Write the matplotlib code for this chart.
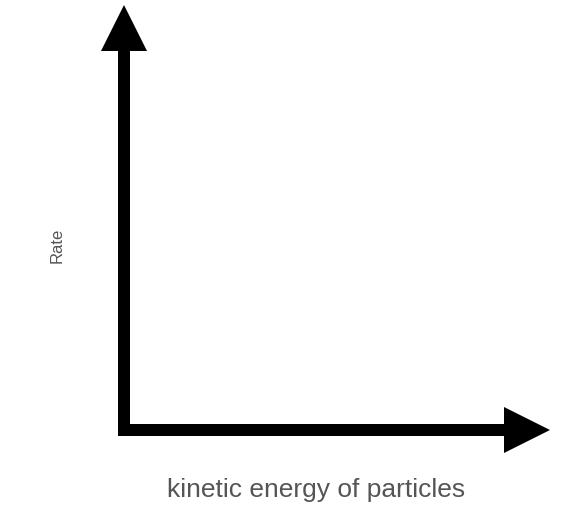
import matplotlib
matplotlib.use("Agg")
import matplotlib.pyplot as plt
from matplotlib.patches import FancyArrow

x_label = "kinetic energy of particles"
y_label = "Rate"

fig = plt.figure(figsize=(5.7, 5.18), dpi=100)
ax = fig.add_axes([0, 0, 1, 1])
ax.set_xlim(0, 570)
ax.set_ylim(518, 0)
ax.axis("off")

ax.add_patch(FancyArrow(124, 436, 0, -431, width=12, head_width=46, head_length=46,
                        length_includes_head=True, color="black", lw=0))
ax.add_patch(FancyArrow(118, 430, 432, 0, width=12, head_width=46, head_length=46,
                        length_includes_head=True, color="black", lw=0))

ax.text(57, 245, y_label, rotation=90, ha="center", va="center", fontsize=12,
        color="#555555", family="Liberation Sans")
ax.text(316, 490, x_label, ha="center", va="center", fontsize=19,
        color="#555555", family="Liberation Sans")

fig.savefig("out.png", dpi=100)
